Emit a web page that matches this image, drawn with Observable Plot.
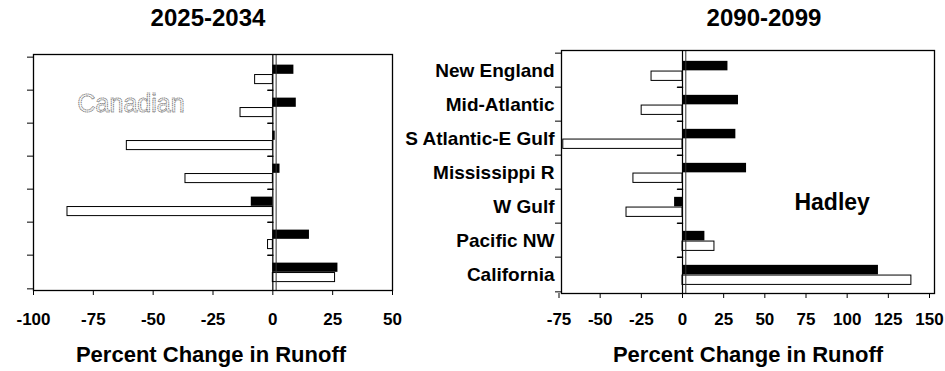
<!DOCTYPE html>
<html><head><meta charset="utf-8">
<script src="https://cdn.jsdelivr.net/npm/d3@7"></script>
<script src="https://cdn.jsdelivr.net/npm/@observablehq/plot@0.6"></script>
<style>
body{margin:0;background:#fff;}
#wrap{position:relative;width:945px;height:371px;overflow:hidden;font-family:"Liberation Sans",Arial,sans-serif;}
.t{position:absolute;font-weight:bold;color:#000;white-space:nowrap;line-height:1;transform:translateX(-50%);}
.p{position:absolute;top:0;}
</style></head><body>
<div id="wrap"></div>
<script>
// ---- data ----
const regions = ["New England","Mid-Atlantic","S Atlantic-E Gulf","Mississippi R","W Gulf","Pacific NW","California"];
const hadley2025 = [8.8, 9.8, 1, 3, -9, 15.3, 27.2];          // black bars
const canadian2025 = [-7.4, -13.5, -61, -36.5, -85.8, -2, 26]; // white bars
const hadley2090 = [27.6, 34, 32.4, 38.9, -4.8, 13.6, 119];
const canadian2090 = [-18.8, -24.8, -72.4, -29.8, -34, 19.4, 139];
const ticks2025 = [-100, -75, -50, -25, 0, 25, 50];
const ticks2090 = [-75, -50, -25, 0, 25, 50, 75, 100, 125, 150];
const panelTitles = ["2025-2034", "2090-2099"];
const axisTitle = "Percent Change in Runoff";
const modelNotes = [
  {text: "Canadian", x: -81.6, region: "Mid-Atlantic"},
  {text: "Hadley", x: 68, region: "W Gulf"}
];

const FONT = '"Liberation Sans", Arial, sans-serif';
const wrap = document.getElementById("wrap");
const tickShape = {draw(ctx, l) { ctx.moveTo(0, 0); ctx.lineTo(0, -l); }};

function makePanel(o) {
  const rows = regions.map((r, i) => ({region: r, black: o.black[i], white: o.white[i]}));
  const bw = (o.height - o.mt - o.mb) / regions.length;
  const note = o.note;
  return Plot.plot({
    width: o.width, height: o.height,
    marginLeft: o.ml, marginRight: o.mr, marginTop: o.mt, marginBottom: o.mb,
    style: {fontFamily: FONT, background: "transparent", overflow: "visible", color: "black"},
    x: {domain: o.domain, insetLeft: o.il, insetRight: o.ir},
    y: {domain: regions, padding: 0},
    marks: [
      Plot.text([note], {
        x: "x", y: "region", text: "text", textAnchor: "start", lineAnchor: "middle",
        dy: o.noteDy, fontSize: o.noteSize, fontWeight: o.noteWeight,
        fill: o.noteFill, stroke: o.noteStroke, strokeWidth: o.noteStrokeWidth,
        strokeDasharray: o.noteDash, paintOrder: "fill"
      }),
      Plot.barX(rows, {x: "white", y: "region", fill: "white", stroke: "black", strokeWidth: 1,
        insetTop: 0.52 * bw, insetBottom: 0.19 * bw}),
      Plot.barX(rows, {x: "black", y: "region", fill: "black",
        insetTop: 0.226 * bw, insetBottom: 0.48 * bw}),
      Plot.ruleX([0], {stroke: "black", strokeWidth: 1.2}),
      Plot.ruleX([0], {stroke: "#333", strokeWidth: 1, dx: 3.3}),
      Plot.vector(regions.slice(1), {x: () => 0, y: d => d, length: 5, rotate: 270, anchor: "start",
        shape: tickShape, dy: -bw / 2, stroke: "black"}),
      Plot.frame({stroke: "black", strokeWidth: 1.3}),
      Plot.axisX({ticks: o.ticks, tickFormat: d => String(d), tickSize: 5, tickPadding: o.tp,
        fontSize: 17, fontWeight: "bold", label: null}),
      Plot.axisY({tickSize: 6, tickFormat: () => "", dy: -bw / 2, label: null}),
      Plot.axisY({ticks: [regions[regions.length - 1]], tickSize: 6, tickFormat: () => "", dy: bw / 2, label: null}),
      o.labels ? Plot.axisY({tickSize: 0, tickPadding: 7, fontSize: 19, fontWeight: "bold", label: null}) : null
    ]
  });
}

const left = makePanel({
  black: hadley2025, white: canadian2025, domain: [ticks2025[0], ticks2025[ticks2025.length - 1]], ticks: ticks2025,
  width: 400, height: 330, ml: 33, mr: 8, mt: 54, mb: 40, tp: 17, labels: false, il: 0, ir: 0,
  note: modelNotes[0], noteDy: -2.6, noteSize: 25, noteWeight: "normal",
  noteFill: "white", noteStroke: "#808080", noteStrokeWidth: 1, noteDash: "1.2 0.6"
});
const right = makePanel({
  black: hadley2090, white: canadian2090, domain: [ticks2090[0], ticks2090[ticks2090.length - 1]], ticks: ticks2090,
  width: 550, height: 330, ml: 166, mr: 11, mt: 50, mb: 37, tp: 14, labels: true, il: -2.5, ir: 5,
  note: modelNotes[1], noteDy: -3.7, noteSize: 23, noteWeight: "bold",
  noteFill: "black", noteStroke: "none", noteStrokeWidth: 0, noteDash: null
});

const d1 = document.createElement("div"); d1.className = "p"; d1.style.left = "0px"; d1.appendChild(left);
const d2 = document.createElement("div"); d2.className = "p"; d2.style.left = "395px"; d2.appendChild(right);
wrap.appendChild(d1); wrap.appendChild(d2);

function addText(txt, cx, baseline, fs) {
  const el = document.createElement("div");
  el.className = "t";
  el.textContent = txt;
  el.style.fontSize = fs + "px";
  el.style.left = cx + "px";
  el.style.top = (baseline - 0.8465 * fs) + "px";
  wrap.appendChild(el);
}
addText(panelTitles[0], 208, 26.7, 24);
addText(panelTitles[1], 764, 26.7, 24);
addText(axisTitle, 211, 363, 22);
addText(axisTitle, 748, 363, 22);
</script>
</body></html>
